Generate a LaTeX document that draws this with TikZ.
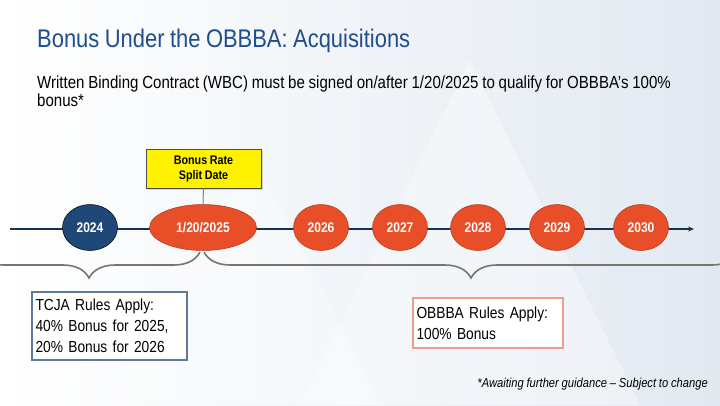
\documentclass[tikz,border=0pt]{standalone}
\usepackage{fontspec}
\setmainfont[FakeStretch=0.86,WordSpace=0.9]{Liberation Sans}
\usetikzlibrary{shapes.geometric,decorations.pathreplacing,arrows.meta,shadows}
\definecolor{titleblue}{HTML}{1F4E8C}
\definecolor{yearnavy}{HTML}{1F4778}
\definecolor{linenavy}{HTML}{17324F}
\definecolor{yearorange}{HTML}{E84E27}
\definecolor{bracegray}{HTML}{76766F}
\definecolor{tcjaedge}{HTML}{5E7A96}
\definecolor{obbbaedge}{HTML}{EE9F8C}
\definecolor{bgblue}{HTML}{E2E9F1}
\begin{document}
\begin{tikzpicture}[x=1pt,y=-1pt,
    year/.style={ellipse, draw=yearorange!75!black, line width=0.5pt, fill=yearorange, text=white,
      font=\bfseries\fontsize{14}{16}\selectfont, minimum width=55pt, minimum height=46pt, inner sep=0pt},
    rulebox/.style={draw, line width=1.2pt, fill=white, align=left, inner sep=0pt,
      font=\fontsize{16}{21}\selectfont},
    bracket/.style={bracegray, line width=1.6pt, decorate, decoration={brace, amplitude=26pt}}]
    \useasboundingbox (0,0) rectangle (720,405);
    \shade[left color=white, right color=bgblue] (0,0) rectangle (720,405);
    \fill[white, opacity=0.35] (300,405) -- (470,60) -- (640,405) -- cycle;
    \fill[white, opacity=0.25] (120,405) -- (250,150) -- (380,405) -- cycle;
    \node[anchor=base west, inner sep=0pt, text=titleblue, font=\fontsize{25.5}{28}\selectfont] (title) at (37,47) {Bonus Under the OBBBA: Acquisitions};
    \node[anchor=base west, inner sep=0pt, align=left, font=\fontsize{17.5}{15}\selectfont] (wbc) at (37,106)
      {Written Binding Contract (WBC) must be signed on/after 1/20/2025 to qualify for OBBBA’s 100\%\\bonus*};
    \coordinate (tl0) at (10,229);
    \coordinate (tl1) at (694,229);
    \draw[linenavy, line width=1.6pt, -{Stealth[length=6pt,width=5pt]}] (tl0) -- (tl1);
    \node[year, fill=yearnavy, draw=black] (y2024) at (90,227.5) {2024};
    \node[year, minimum width=107pt] (d2025) at (203,227.5) {1/20/2025};
    \node[year] (y2026) at (321,227.5) {2026};
    \node[year] (y2027) at (400,227.5) {2027};
    \node[year] (y2028) at (478,227.5) {2028};
    \node[year] (y2029) at (557,227.5) {2029};
    \node[year] (y2030) at (641,227.5) {2030};
    \node[draw=black!70, line width=0.6pt, fill=yellow, align=center, minimum width=115pt, minimum height=39pt,
      drop shadow={opacity=0.3, shadow xshift=1.5pt, shadow yshift=-1.5pt},
      font=\bfseries\fontsize{12.5}{15}\selectfont] (split) at (203.5,168.5) {Bonus Rate\\Split Date};
    \draw[gray, line width=1pt] (split.south) -- (d2025.north);
    \coordinate (bl0) at (-22,252);
    \coordinate (bl1) at (200,252);
    \coordinate (br0) at (204,252);
    \coordinate (br1) at (738,252);
    \draw[bracket] (bl1) -- (bl0);
    \draw[bracket] (br1) -- (br0);
    \node[rulebox, draw=tcjaedge, minimum width=155pt, minimum height=68pt, text width=148pt] (tcja) at (109.5,326)
      {TCJA Rules Apply:\\40\% Bonus for 2025,\\20\% Bonus for 2026};
    \node[rulebox, draw=obbbaedge, minimum width=150pt, minimum height=50pt, text width=143pt] (obbba) at (488,323)
      {OBBBA Rules Apply:\\100\% Bonus};
    \node[anchor=base east, inner sep=0pt, font=\itshape\fontsize{13}{14}\selectfont] (note) at (708,387)
      {*Awaiting further guidance -- Subject to change};
\end{tikzpicture}
\end{document}
